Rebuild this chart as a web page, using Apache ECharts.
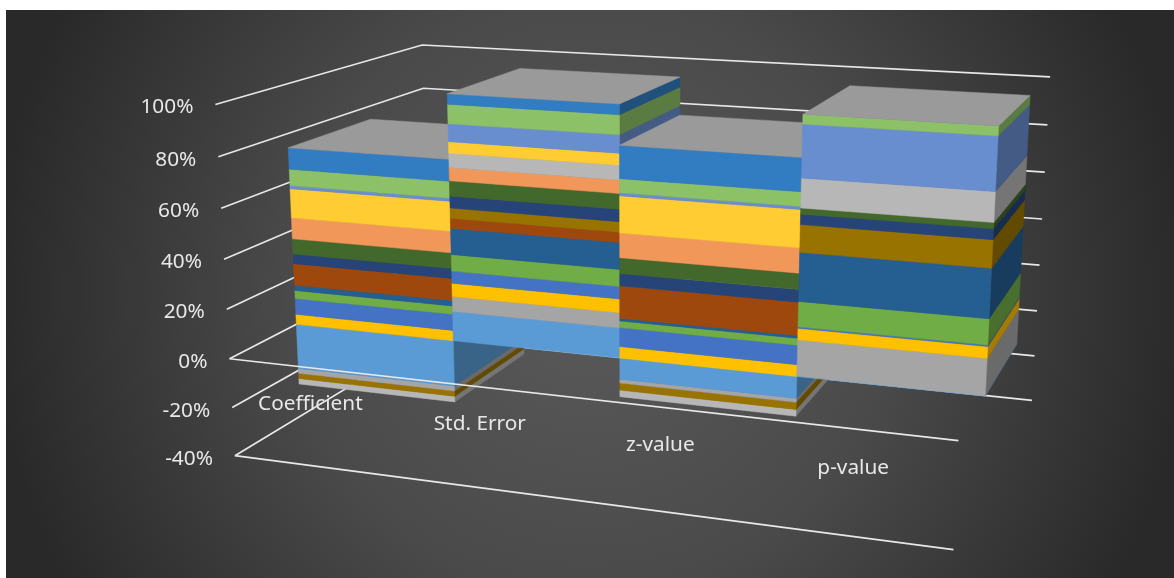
<!DOCTYPE html>
<html>
<head>
<meta charset="utf-8">
<style>
  html, body { margin: 0; padding: 0; background: #ffffff; }
  #chart { width: 1174px; height: 578px; }
</style>
<script src="https://cdn.jsdelivr.net/npm/echarts@6/dist/echarts.min.js"></script>
</head>
<body>
<div id="chart"></div>
<script>
// Categories and axis ticks
const categories = ['Coefficient', 'Std. Error', 'z-value', 'p-value'];
const tickValues = [100, 80, 60, 40, 20, 0, -20, -40];
const tickLabels = ['100%', '80%', '60%', '40%', '20%', '0%', '-20%', '-40%'];

// Stacked shares in percent, one array per series, ordered by category
const s01 = [-19.1, 12.2, -8.6, 0.2];
const s03 = [-2.1, 6.2, -1.6, 14.3];
const s04 = [4.3, 5.5, 4.7, 4.5];
const s05 = [6.8, 5.0, 7.7, 0.6];
const s06 = [3.4, 6.8, 2.7, 9.9];
const s07 = [2.3, 10.7, 1.1, 18.9];
const s08 = [9.1, 4.1, 13.0, 0];
const s10 = [-2.3, 4.1, -2.9, 10.6];
const s11 = [4.1, 4.9, 4.9, 4.0];
const s12 = [6.4, 6.1, 6.3, 2.3];
const s14 = [8.8, 5.3, 9.7, 0];
const s15 = [-2.4, 5.7, -2.7, 11.3];
const s16 = [12.1, 4.6, 14.6, 0];
const s17 = [1.3, 7.1, 1.2, 20.1];
const s18 = [6.8, 7.7, 5.5, 3.6];
const s19 = [8.8, 4.1, 12.9, 0];

const stackOrder = [s01, s03, s04, s05, s06, s07, s08, s10, s11, s12, s14, s15, s16, s17, s18, s19];
const stackColors = ['#5B9BD5', '#A5A5A5', '#FFC000', '#4472C4', '#70AD47', '#255E91', '#9E480E', '#997300',
  '#264478', '#43682B', '#F1975A', '#B7B7B7', '#FFCD33', '#698ED0', '#8CC168', '#327DC2'];

const AXIS_MIN = -40, AXIS_MAX = 100;
const BAR_FRONT = 0.295, BAR_BACK = 0.70;   // depth span of the columns inside the box
const CAP_COLOR = '#9A9A9A';
const LINE_COLOR = '#E8E8E8';
const TEXT_COLOR = '#E8E8E8';
const FONT = '"Noto Sans", sans-serif';

// Where the corners and wall ticks of the 3D box fall on the canvas: [x, level, depth, px, py]
const cameraAnchors = [
  [0, 100, 0, 215.3, 105.3], [0, 80, 0, 218, 156.7], [0, 60, 0, 221, 208.7], [0, 40, 0, 224, 259.5],
  [0, 20, 0, 226.7, 309], [0, 0, 0, 230, 358.3], [0, -20, 0, 232, 407.3], [0, -40, 0, 235, 455],
  [0, 100, 1, 422, 44.5], [0, 80, 1, 424, 88], [0, 0, 1, 428, 256], [0, -40, 1, 430, 339],
  [1, 100, 1, 1050, 76.7], [1, 80, 1, 1047, 125], [1, 60, 1, 1045, 172.5], [1, 40, 1, 1042, 219],
  [1, 20, 1, 1040, 265], [1, 0, 1, 1037, 311], [1, -20, 1, 1034, 355], [1, -40, 1, 1032, 400.7],
  [1, 0, 0, 959, 440.7], [1, -40, 0, 953.3, 550]
];

// Least-squares fit of a projective camera (11 parameters) to the anchors
function fitCamera(anchors) {
  const rows = [], rhs = [];
  anchors.forEach(function (a) {
    const X = a[0], Y = (a[1] - AXIS_MIN) / (AXIS_MAX - AXIS_MIN), Z = a[2];
    const u = a[3] / 1000, v = a[4] / 1000;
    rows.push([X, Y, Z, 1, 0, 0, 0, 0, -u * X, -u * Y, -u * Z]); rhs.push(u);
    rows.push([0, 0, 0, 0, X, Y, Z, 1, -v * X, -v * Y, -v * Z]); rhs.push(v);
  });
  const n = 11, M = [];
  for (let i = 0; i < n; i++) {
    M.push(new Array(n + 1).fill(0));
    rows.forEach(function (r, k) {
      for (let j = 0; j < n; j++) M[i][j] += r[i] * r[j];
      M[i][n] += r[i] * rhs[k];
    });
  }
  for (let c = 0; c < n; c++) {
    let piv = c;
    for (let r = c + 1; r < n; r++) if (Math.abs(M[r][c]) > Math.abs(M[piv][c])) piv = r;
    const t = M[c]; M[c] = M[piv]; M[piv] = t;
    for (let r = 0; r < n; r++) {
      if (r === c) continue;
      const f = M[r][c] / M[c][c];
      for (let j = c; j <= n; j++) M[r][j] -= f * M[c][j];
    }
  }
  return M.map(function (row, i) { return row[n] / row[i]; });
}
const cam = fitCamera(cameraAnchors);

// Projects box coordinates (x and level as grid fractions, plus depth) to canvas pixels
function project(fx, fy, z) {
  const w = cam[8] * fx + cam[9] * fy + cam[10] * z + 1;
  return [
    1000 * (cam[0] * fx + cam[1] * fy + cam[2] * z + cam[3]) / w,
    1000 * (cam[4] * fx + cam[5] * fy + cam[6] * z + cam[7]) / w
  ];
}

// Reads a point through the chart's own axes, then lifts it into the 3D box
function toBox(api, params, catIndex, level, bandShift) {
  const cs = params.coordSys;
  const p = api.coord([catIndex, level]);
  const band = api.size([1, 0])[0];
  return {
    fx: (p[0] + bandShift * band - cs.x) / cs.width,
    fy: (cs.y + cs.height - p[1]) / cs.height
  };
}

function shade(hex, k) {
  const n = parseInt(hex.slice(1), 16);
  const c = [(n >> 16) & 255, (n >> 8) & 255, n & 255].map(function (v) { return Math.round(v * k); });
  return 'rgb(' + c.join(',') + ')';
}

// Start and end of each stacked piece: positives build upward, negatives downward
const pieces = stackOrder.map(function () { return []; });
const topSeries = [];
categories.forEach(function (_, c) {
  let up = 0, down = 0;
  stackOrder.forEach(function (values, s) {
    const v = values[c];
    if (v >= 0) {
      pieces[s][c] = [up, up + v];
      up += v;
      if (v > 0) topSeries[c] = s;
    } else {
      pieces[s][c] = [down, down + v];
      down += v;
    }
  });
});

function columnSeries(values, s) {
  return {
    type: 'custom',
    name: 'Series ' + (s + 1),
    coordinateSystem: 'cartesian2d',
    silent: true,
    animation: false,
    z: 2,
    encode: { x: 0, y: 1 },
    data: values.map(function (v, c) { return [c, v]; }),
    renderItem: function (params, api) {
      const c = api.value(0);
      const v = api.value(1);
      if (!v) return null;
      const span = pieces[s][c];
      const a0 = toBox(api, params, c, span[0], -0.5), a1 = toBox(api, params, c, span[1], -0.5);
      const b0 = toBox(api, params, c, span[0], 0.5), b1 = toBox(api, params, c, span[1], 0.5);
      const color = stackColors[s];
      const rightColor = shade(color, 0.64);
      const order = c * 1000 + (v > 0 ? 500 + s : 400 - s);
      const children = [
        {
          type: 'polygon', z2: order,
          shape: { points: [project(b0.fx, b0.fy, BAR_FRONT), project(b0.fx, b0.fy, BAR_BACK), project(b1.fx, b1.fy, BAR_BACK), project(b1.fx, b1.fy, BAR_FRONT)] },
          style: { fill: rightColor, stroke: rightColor, lineWidth: 0.5 }
        },
        {
          type: 'polygon', z2: order,
          shape: { points: [project(a0.fx, a0.fy, BAR_FRONT), project(b0.fx, b0.fy, BAR_FRONT), project(b1.fx, b1.fy, BAR_FRONT), project(a1.fx, a1.fy, BAR_FRONT)] },
          style: { fill: color, stroke: color, lineWidth: 0.5 }
        }
      ];
      if (topSeries[c] === s) {
        children.push({
          type: 'polygon', z2: c * 1000 + 900,
          shape: { points: [project(a1.fx, a1.fy, BAR_FRONT), project(b1.fx, b1.fy, BAR_FRONT), project(b1.fx, b1.fy, BAR_BACK), project(a1.fx, a1.fy, BAR_BACK)] },
          style: { fill: CAP_COLOR, stroke: CAP_COLOR, lineWidth: 0.5 }
        });
      }
      return { type: 'group', children: children };
    }
  };
}

// Gridlines run along the left wall and then along the back wall
const wallLines = {
  type: 'custom', name: 'Walls', coordinateSystem: 'cartesian2d', silent: true, animation: false, z: 1,
  encode: { x: 0, y: 1 },
  data: tickValues.map(function (t) { return [0, t]; }),
  renderItem: function (params, api) {
    const l = toBox(api, params, 0, api.value(1), -0.5);
    const r = toBox(api, params, categories.length - 1, api.value(1), 0.5);
    return {
      type: 'polyline',
      shape: { points: [project(l.fx, l.fy, 0), project(l.fx, l.fy, 1), project(r.fx, r.fy, 1)] },
      style: { stroke: LINE_COLOR, lineWidth: 1.7, fill: null }
    };
  }
};

// Front edges of the floor and of the zero plane
const frontLines = {
  type: 'custom', name: 'Front edges', coordinateSystem: 'cartesian2d', silent: true, animation: false, z: 5,
  encode: { x: 0, y: 1 },
  data: [[0, 0], [0, AXIS_MIN]],
  renderItem: function (params, api) {
    const l = toBox(api, params, 0, api.value(1), -0.5);
    const r = toBox(api, params, categories.length - 1, api.value(1), 0.5);
    return {
      type: 'polyline',
      shape: { points: [project(l.fx, l.fy, 0), project(r.fx, r.fy, 0)] },
      style: { stroke: LINE_COLOR, lineWidth: 1.7, fill: null }
    };
  }
};

const tickText = {
  type: 'custom', name: 'Value labels', coordinateSystem: 'cartesian2d', silent: true, animation: false, z: 6,
  encode: { x: 0, y: 1 },
  data: tickValues.map(function (t) { return [0, t]; }),
  renderItem: function (params, api) {
    const l = toBox(api, params, 0, api.value(1), -0.5);
    const p = project(l.fx, l.fy, 0);
    return {
      type: 'text',
      style: {
        x: p[0] - 22, y: p[1] + 3, text: tickLabels[params.dataIndex],
        fill: TEXT_COLOR, font: '20.8px ' + FONT, align: 'right', verticalAlign: 'middle'
      }
    };
  }
};

const categoryText = {
  type: 'custom', name: 'Category labels', coordinateSystem: 'cartesian2d', silent: true, animation: false, z: 6,
  encode: { x: 0, y: 1 },
  data: categories.map(function (_, c) { return [c, 0]; }),
  renderItem: function (params, api) {
    const c = api.value(0);
    const mid = toBox(api, params, c, -14.4, 0);
    const p = project(mid.fx, mid.fy, 0);
    return {
      type: 'text',
      style: {
        x: p[0] - 2, y: p[1], text: categories[c],
        fill: TEXT_COLOR, font: '20.8px ' + FONT, align: 'center', verticalAlign: 'middle'
      }
    };
  }
};

const chart = echarts.init(document.getElementById('chart'), null, { renderer: 'canvas' });
chart.setOption({
  animation: false,
  grid: { left: 0, right: 0, top: 0, bottom: 0 },
  xAxis: { type: 'category', data: categories, show: false, boundaryGap: true },
  yAxis: { type: 'value', min: AXIS_MIN, max: AXIS_MAX, interval: 20, show: false },
  graphic: [{
    type: 'rect', z: -10, silent: true,
    shape: { x: 6, y: 10, width: 1168, height: 568 },
    style: {
      fill: {
        type: 'radial', x: 590, y: 294, r: 600, global: true,
        colorStops: [
          { offset: 0, color: '#5A5A5A' },
          { offset: 0.5, color: '#4A4A4A' },
          { offset: 1, color: '#292929' }
        ]
      }
    }
  }],
  series: [wallLines].concat(stackOrder.map(columnSeries), [frontLines, tickText, categoryText])
});
</script>
</body>
</html>
